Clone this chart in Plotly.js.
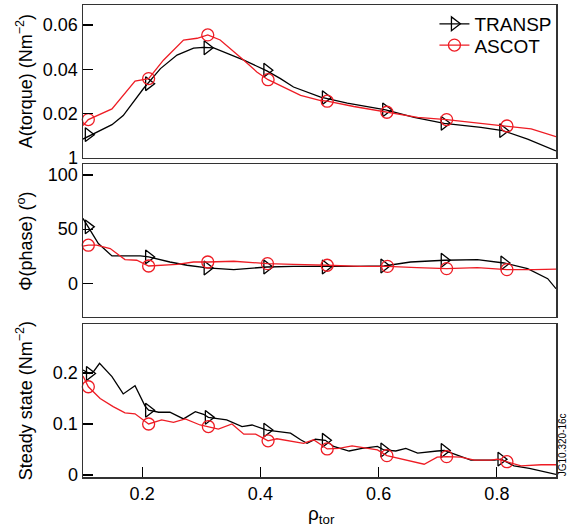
<!DOCTYPE html>
<html>
<head>
<meta charset="utf-8">
<script src="https://cdn.plot.ly/plotly-3.0.1.min.js"></script>
<style>html,body{margin:0;padding:0;background:#fff;}#plot{width:567px;height:532px;}</style>
</head>
<body>
<div id="plot"></div>
<script>
// ---- Panel 1: A(torque) ----
const tqTranspX = [0.100,0.149,0.168,0.202,0.231,0.259,0.287,0.304,0.321,0.372,0.411,0.434,0.456,0.502,0.547,0.612,0.660,0.711,0.773,0.810,0.852,0.900];
const tqTranspY = [0.0085,0.0150,0.0191,0.0312,0.0403,0.0464,0.0495,0.0499,0.0497,0.0441,0.0393,0.0358,0.0320,0.0274,0.0247,0.0217,0.0183,0.0156,0.0138,0.0123,0.0085,0.0032];
const tqTranspMkX = [0.109,0.211,0.310,0.411,0.510,0.612,0.711,0.810];
const tqTranspMkY = [0.0105,0.0335,0.0497,0.0396,0.0272,0.0217,0.0156,0.0123];

const tqAscotX = [0.100,0.109,0.149,0.188,0.211,0.236,0.270,0.293,0.311,0.332,0.372,0.394,0.413,0.434,0.456,0.468,0.502,0.513,0.558,0.614,0.666,0.715,0.773,0.817,0.858,0.900];
const tqAscotY = [0.0146,0.0173,0.0221,0.0347,0.0358,0.0441,0.0532,0.0540,0.0555,0.0532,0.0441,0.0388,0.0353,0.0327,0.0297,0.0282,0.0259,0.0256,0.0232,0.0206,0.0183,0.0173,0.0156,0.0144,0.0131,0.0096];
const tqAscotMkX = [0.109,0.211,0.311,0.413,0.513,0.614,0.715,0.817];
const tqAscotMkY = [0.0173,0.0358,0.0555,0.0353,0.0256,0.0206,0.0173,0.0144];

// ---- Panel 2: Phi(phase) ----
const phTranspX = [0.100,0.109,0.126,0.149,0.197,0.211,0.247,0.276,0.310,0.355,0.411,0.456,0.502,0.510,0.558,0.609,0.654,0.711,0.767,0.812,0.852,0.886,0.900];
const phTranspY = [59.9,52.1,36.7,25.3,25.3,24.4,19.7,16.7,14.2,12.7,15.1,15.7,15.7,15.1,15.7,16.0,19.7,21.3,21.9,18.8,13.6,4.3,-4.9];
const phTranspMkX = [0.109,0.211,0.310,0.411,0.510,0.609,0.711,0.812];
const phTranspMkY = [52.1,24.4,14.2,15.1,15.1,16.0,21.3,18.8];

const phAscotX = [0.100,0.109,0.123,0.146,0.171,0.191,0.211,0.231,0.259,0.287,0.311,0.355,0.412,0.456,0.502,0.513,0.569,0.615,0.665,0.715,0.767,0.817,0.863,0.900];
const phAscotY = [34.3,35.2,35.2,32.1,21.9,21.3,16.0,16.7,17.6,19.7,19.7,20.4,18.2,17.6,16.4,16.7,15.7,15.7,14.5,13.6,14.5,12.7,12.7,13.2];
const phAscotMkX = [0.109,0.211,0.311,0.412,0.513,0.615,0.715,0.817];
const phAscotMkY = [35.2,16.0,19.7,18.2,16.7,15.7,13.6,12.7];

// ---- Panel 3: Steady state ----
const ssTranspX = [0.100,0.111,0.118,0.128,0.149,0.168,0.188,0.205,0.211,0.228,0.247,0.270,0.290,0.304,0.312,0.343,0.369,0.386,0.411,0.434,0.451,0.468,0.479,0.493,0.510,0.524,0.550,0.572,0.598,0.609,0.629,0.646,0.666,0.699,0.711,0.733,0.756,0.796,0.807,0.829,0.855,0.900];
const ssTranspY = [0.206,0.199,0.203,0.219,0.193,0.159,0.175,0.135,0.127,0.123,0.123,0.110,0.124,0.119,0.113,0.108,0.095,0.098,0.088,0.085,0.082,0.069,0.062,0.070,0.068,0.056,0.047,0.052,0.056,0.049,0.047,0.052,0.043,0.047,0.048,0.039,0.029,0.029,0.031,0.018,0.013,0.001];
const ssTranspMkX = [0.111,0.211,0.312,0.411,0.510,0.609,0.711,0.807];
const ssTranspMkY = [0.199,0.127,0.113,0.088,0.068,0.049,0.048,0.031];

const ssAscotX = [0.100,0.109,0.129,0.151,0.171,0.188,0.211,0.233,0.253,0.273,0.298,0.312,0.329,0.352,0.372,0.392,0.413,0.428,0.473,0.490,0.499,0.513,0.533,0.555,0.598,0.614,0.677,0.699,0.715,0.739,0.762,0.790,0.801,0.817,0.841,0.875,0.900];
const ssAscotY = [0.194,0.173,0.150,0.134,0.122,0.120,0.100,0.108,0.103,0.110,0.098,0.095,0.090,0.100,0.080,0.080,0.067,0.071,0.062,0.069,0.062,0.051,0.052,0.057,0.049,0.038,0.021,0.035,0.036,0.035,0.029,0.029,0.031,0.026,0.018,0.020,0.020];
const ssAscotMkX = [0.109,0.211,0.312,0.413,0.513,0.614,0.715,0.817];
const ssAscotMkY = [0.173,0.100,0.095,0.067,0.051,0.038,0.036,0.026];

// ---- tick labels ----
const xTicks = [0.2,0.4,0.6,0.8];
const xTickText = ['0.2','0.4','0.6','0.8'];
const tqTicks = [0,0.02,0.04,0.06];
const tqTickText = ['1','0.02','0.04','0.06'];
const phTicks = [0,50,100];
const phTickText = ['0','50','100'];
const ssTicks = [0,0.1,0.2];
const ssTickText = ['0','0.1','0.2'];
const seriesNames = ['TRANSP','ASCOT'];

const BLACK = '#000000';
const RED = '#ee1c24';
const FONT = 'Liberation Sans, Arial, sans-serif';

function lineTrace(x, y, color, xa, ya) {
  return {x: x, y: y, xaxis: xa, yaxis: ya, mode: 'lines', type: 'scatter',
    line: {color: color, width: 1.3}, showlegend: false, hoverinfo: 'skip'};
}
function markTrace(x, y, color, sym, xa, ya) {
  return {x: x, y: y, xaxis: xa, yaxis: ya, mode: 'markers', type: 'scatter',
    marker: {symbol: sym, size: 12, color: color, line: {color: color, width: 1.3}},
    showlegend: false, hoverinfo: 'skip', cliponaxis: false};
}
function legendTrace(name, color, sym, leg) {
  return {x: [null], y: [null], xaxis: 'x3', yaxis: 'y3', name: name, legend: leg,
    mode: 'lines+markers', type: 'scatter',
    line: {color: color, width: 1.3},
    marker: {symbol: sym, size: 12, color: color, line: {color: color, width: 1.3}}};
}

const data = [
  lineTrace(tqTranspX, tqTranspY, BLACK, 'x3', 'y3'),
  markTrace(tqTranspMkX, tqTranspMkY, BLACK, 'triangle-right-open', 'x3', 'y3'),
  lineTrace(tqAscotX, tqAscotY, RED, 'x3', 'y3'),
  markTrace(tqAscotMkX, tqAscotMkY, RED, 'circle-open', 'x3', 'y3'),
  lineTrace(phTranspX, phTranspY, BLACK, 'x2', 'y2'),
  markTrace(phTranspMkX, phTranspMkY, BLACK, 'triangle-right-open', 'x2', 'y2'),
  lineTrace(phAscotX, phAscotY, RED, 'x2', 'y2'),
  markTrace(phAscotMkX, phAscotMkY, RED, 'circle-open', 'x2', 'y2'),
  lineTrace(ssTranspX, ssTranspY, BLACK, 'x', 'y'),
  markTrace(ssTranspMkX, ssTranspMkY, BLACK, 'triangle-right-open', 'x', 'y'),
  lineTrace(ssAscotX, ssAscotY, RED, 'x', 'y'),
  markTrace(ssAscotMkX, ssAscotMkY, RED, 'circle-open', 'x', 'y'),
  legendTrace(seriesNames[0], BLACK, 'triangle-right-open', 'legend'),
  legendTrace(seriesNames[1], RED, 'circle-open', 'legend2')
];

const frame = {showline: true, linecolor: '#333333', linewidth: 1.5, mirror: true, showgrid: false, zeroline: false};
const xRange = [0.1, 0.9];
const legendCommon = {xanchor: 'left', yanchor: 'top', bgcolor: 'rgba(0,0,0,0)',
  font: {family: FONT, size: 19, color: '#000'}, itemwidth: 30};

const layout = {
  width: 567, height: 532,
  margin: {l: 83, r: 11, t: 5, b: 55},
  paper_bgcolor: '#ffffff', plot_bgcolor: '#ffffff',
  font: {family: FONT, size: 17, color: '#000'},
  showlegend: true,
  legend: Object.assign({}, legendCommon, {x: 0.743, y: 1.0}),
  legend2: Object.assign({}, legendCommon, {x: 0.743, y: 0.955}),
  xaxis: Object.assign({}, frame, {domain: [0,1], range: xRange, anchor: 'y', tickmode: 'array',
    tickvals: xTicks, ticktext: xTickText, ticks: 'inside', ticklen: 10, tickwidth: 1.2, tickcolor: '#000',
    tickfont: {family: FONT, size: 18}}),
  xaxis2: Object.assign({}, frame, {domain: [0,1], range: xRange, anchor: 'y2', showticklabels: false, ticks: ''}),
  xaxis3: Object.assign({}, frame, {domain: [0,1], range: xRange, anchor: 'y3', showticklabels: false, ticks: ''}),
  yaxis: Object.assign({}, frame, {domain: [0, 0.324], range: [-0.004, 0.296], anchor: 'x', tickmode: 'array',
    tickvals: ssTicks, ticktext: ssTickText, ticks: 'inside', ticklen: 10, tickwidth: 1.2, tickcolor: '#000',
    tickfont: {family: FONT, size: 18}}),
  yaxis2: Object.assign({}, frame, {domain: [0.339, 0.663], range: [-31, 110], anchor: 'x2', tickmode: 'array',
    tickvals: phTicks, ticktext: phTickText, ticks: 'inside', ticklen: 10, tickwidth: 1.2, tickcolor: '#000',
    tickfont: {family: FONT, size: 18}}),
  yaxis3: Object.assign({}, frame, {domain: [0.676, 1], range: [0, 0.069], anchor: 'x3', tickmode: 'array',
    tickvals: tqTicks, ticktext: tqTickText, ticks: 'inside', ticklen: 10, tickwidth: 1.2, tickcolor: '#000',
    tickfont: {family: FONT, size: 18}}),
  annotations: [
    {text: 'A(torque) (Nm<sup>−2</sup>)', xref: 'paper', yref: 'paper', x: -0.123, y: 0.838,
      textangle: -90, showarrow: false, font: {family: FONT, size: 18}, xanchor: 'center', yanchor: 'middle'},
    {text: 'Φ(phase) (<sup>o</sup>)', xref: 'paper', yref: 'paper', x: -0.123, y: 0.5,
      textangle: -90, showarrow: false, font: {family: FONT, size: 18}, xanchor: 'center', yanchor: 'middle'},
    {text: 'Steady state (Nm<sup>−2</sup>)', xref: 'paper', yref: 'paper', x: -0.123, y: 0.162,
      textangle: -90, showarrow: false, font: {family: FONT, size: 18}, xanchor: 'center', yanchor: 'middle'},
    {text: 'ρ<sub>tor</sub>', xref: 'paper', yref: 'paper', x: 0.505, y: -0.08,
      showarrow: false, font: {family: FONT, size: 19}, xanchor: 'center', yanchor: 'middle'},
    {text: 'JG10.320-16c', xref: 'paper', yref: 'paper', x: 1.0155, y: 0.068,
      textangle: -90, showarrow: false, font: {family: FONT, size: 10}, xanchor: 'center', yanchor: 'middle'}
  ]
};

Plotly.newPlot('plot', data, layout, {staticPlot: true, displayModeBar: false});
</script>
</body>
</html>
